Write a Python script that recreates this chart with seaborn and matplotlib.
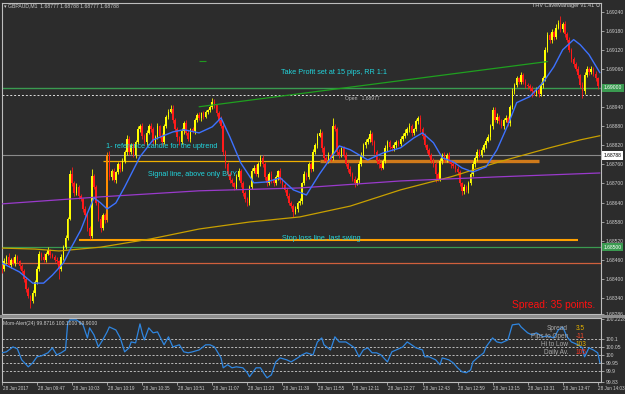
import numpy as np
import pandas as pd
import matplotlib
matplotlib.use("Agg")
import matplotlib.pyplot as plt
import matplotlib.transforms as mtransforms
from matplotlib.patches import Rectangle
import seaborn as sns

# ---------------- data ----------------
header_text = "\u25be GBPAUD,M1  1.68777 1.68788 1.68777 1.68788"
ea_text = "THV CaveManager v1.41 \u2299"
time_labels = ["28 Jun 2017", "28 Jun 09:47", "28 Jun 10:03", "28 Jun 10:19", "28 Jun 10:35",
               "28 Jun 10:51", "28 Jun 11:07", "28 Jun 11:23", "28 Jun 11:39", "28 Jun 11:55",
               "28 Jun 12:11", "28 Jun 12:27", "28 Jun 12:43", "28 Jun 12:59", "28 Jun 13:15",
               "28 Jun 13:31", "28 Jun 13:47", "28 Jun 14:03"]
time_label_bars = [0, 16, 32, 48, 64, 80, 96, 112, 128, 144, 160, 176, 192, 208, 224, 240, 256, 272]

# prices in points above 1.68000 (1 point = 0.00001), one M1 bar per value
base_price = 1.68000
first_open_pts = 440
close_pts = [
    430, 455, 470, 445, 460, 450, 470, 455, 440, 425,
    400, 370, 345, 330, 355, 390, 430, 480, 470, 460,
    480, 490, 475, 470, 460, 455, 430, 470, 500, 530,
    590, 730, 700, 670, 690, 660, 650, 620, 600, 560,
    535, 725, 690, 640, 590, 560, 600, 585, 790, 720,
    740, 710, 735, 760, 745, 770, 800, 840, 800, 820,
    790, 830, 870, 880, 850, 830, 860, 880, 870, 830,
    845, 880, 850, 830, 880, 910, 925, 935, 900, 870,
    845, 830, 865, 890, 860, 840, 870, 865, 900, 915,
    905, 920, 910, 925, 930, 940, 955, 945, 920, 900,
    880, 800, 760, 730, 710, 700, 690, 720, 740, 700,
    670, 650, 640, 690, 740, 750, 730, 760, 780, 760,
    720, 700, 730, 710, 700, 720, 740, 710, 695, 680,
    660, 640, 630, 610, 620, 640, 645, 700, 730, 720,
    760, 745, 800, 820, 850, 860, 810, 780, 770, 790,
    780, 880, 870, 800, 790, 810, 790, 760, 745, 730,
    715, 700, 710, 760, 790, 820, 830, 840, 855, 830,
    800, 770, 760, 750, 770, 810, 830, 815, 810, 820,
    830, 825, 840, 850, 860, 870, 880, 860, 870, 895,
    905, 870, 850, 820, 805, 790, 770, 760, 730, 715,
    770, 790, 775, 790, 770, 760, 755, 745, 735, 700,
    675, 690, 680, 700, 730, 760, 780, 800, 790, 805,
    820, 835, 845, 880, 930, 900, 910, 895, 880, 900,
    905, 890, 940, 990, 1010, 1030, 1020, 1040, 1020, 1010,
    1005, 1000, 990, 985, 995, 980, 1010, 1030, 1120, 1165,
    1150, 1175, 1160, 1190, 1205, 1185, 1200, 1170, 1150, 1120,
    1090, 1075, 1060, 1040, 1010, 990, 1040, 1060, 1050, 1060,
    1045, 1030, 1005]
upper_wick_pts = [
    8, 10, 6, 12, 5, 9, 7, 4, 6, 8,
    5, 7, 6, 4, 9, 6, 10, 8, 5, 12,
    6, 9, 5, 7, 4, 8, 6, 10, 7, 9,
    5, 12, 22, 8, 10, 6, 7, 5, 9, 6,
    8, 20, 6, 5, 7, 9, 6, 8, 10, 12,
    6, 9, 5, 8, 7, 10, 6, 12, 9, 7,
    8, 6, 10, 7, 9, 5, 8, 6, 10, 7,
    6, 9, 5, 8, 7, 6, 9, 10, 12, 6,
    7, 5, 9, 6, 8, 7, 5, 9, 6, 8,
    10, 6, 9, 7, 5, 8, 13, 9, 6, 7,
    12, 8, 6, 9, 5, 7, 6, 10, 8, 6,
    7, 5, 9, 6, 8, 7, 10, 6, 10, 9,
    6, 8, 5, 9, 7, 6, 3, 8, 6, 7,
    5, 9, 6, 7, 8, 6, 9, 5, 10, 7,
    8, 6, 9, 7, 10, 12, 6, 8, 5, 9,
    7, 26, 8, 6, 9, 5, 7, 8, 6, 9,
    5, 7, 6, 10, 8, 6, 9, 7, 14, 6,
    8, 5, 9, 6, 7, 10, 6, 8, 5, 9,
    7, 6, 10, 8, 12, 6, 9, 7, 5, 8,
    7, 9, 6, 8, 5, 7, 6, 9, 8, 6,
    10, 7, 9, 6, 8, 5, 7, 6, 9, 8,
    6, 8, 5, 9, 7, 10, 6, 8, 7, 9,
    6, 8, 10, 7, 11, 9, 12, 6, 8, 7,
    9, 6, 8, 10, 7, 9, 6, 10, 8, 9,
    6, 8, 7, 5, 9, 6, 8, 7, 10, 12,
    9, 10, 8, 12, 9, 20, 8, 10, 7, 9,
    6, 8, 7, 9, 5, 8, 10, 9, 6, 8,
    7, 9, 6]
lower_wick_pts = [
    12, 6, 9, 7, 10, 5, 8, 6, 9, 7,
    8, 10, 6, 20, 7, 9, 6, 5, 10, 8,
    7, 6, 9, 5, 8, 7, 30, 6, 9, 5,
    8, 6, 7, 9, 5, 8, 6, 10, 7, 9,
    10, 6, 8, 7, 9, 12, 6, 10, 7, 8,
    9, 6, 8, 5, 10, 7, 6, 9, 12, 7,
    8, 10, 6, 7, 9, 5, 8, 6, 7, 10,
    9, 6, 8, 10, 7, 6, 8, 5, 9, 7,
    10, 8, 6, 9, 7, 8, 10, 6, 8, 7,
    6, 9, 7, 5, 8, 6, 7, 9, 8, 10,
    6, 9, 12, 8, 10, 7, 9, 6, 8, 10,
    8, 7, 12, 9, 6, 8, 7, 9, 6, 8,
    9, 7, 6, 10, 8, 6, 9, 7, 10, 8,
    7, 9, 8, 15, 6, 9, 7, 8, 6, 10,
    7, 9, 6, 8, 7, 5, 10, 8, 9, 6,
    8, 7, 6, 9, 10, 7, 8, 6, 9, 7,
    8, 10, 6, 9, 5, 8, 7, 6, 9, 8,
    7, 9, 10, 8, 6, 7, 9, 6, 8, 7,
    9, 6, 7, 8, 6, 9, 7, 10, 8, 6,
    8, 7, 9, 6, 10, 8, 7, 9, 25, 8,
    7, 9, 6, 8, 7, 10, 6, 8, 9, 7,
    11, 8, 7, 9, 6, 8, 7, 9, 6, 8,
    7, 9, 6, 8, 10, 7, 9, 8, 6, 10,
    7, 8, 9, 6, 10, 7, 9, 8, 6, 9,
    8, 10, 17, 7, 9, 8, 6, 9, 7, 8,
    10, 8, 9, 7, 6, 10, 8, 9, 7, 6,
    9, 8, 7, 10, 9, 21, 8, 7, 9, 6,
    8, 7, 9]
reference_candle_bar = 48

# moving averages (bar index, points above 1.68000)
ma_fast_bar = [0, 8, 14, 19, 23, 28, 31, 36, 39, 42, 45, 48, 52, 56, 63, 69, 78, 83, 90, 96,
               100, 104, 109, 115, 121, 127, 133, 139, 145, 154, 159, 167, 174, 182, 188, 192,
               197, 201, 206, 210, 215, 221, 226, 231, 235, 241, 247, 252, 256, 261, 264, 268, 273]
ma_fast_pts = [450, 422, 387, 387, 412, 450, 491, 554, 607, 655, 639, 620, 639, 689, 784, 837,
               862, 869, 859, 878, 906, 847, 765, 702, 705, 718, 680, 664, 730, 818, 806, 774,
               796, 812, 843, 859, 828, 781, 768, 749, 736, 752, 806, 884, 954, 973, 1017, 1067,
               1120, 1152, 1136, 1105, 1048]
ma_slow_bar = [0, 15, 26, 45, 68, 90, 113, 136, 159, 182, 205, 227, 250, 264, 273]
ma_slow_pts = [497, 494, 488, 500, 526, 557, 579, 595, 629, 680, 721, 768, 812, 837, 850]
ma_purple_bar = [0, 45, 90, 136, 182, 227, 273]
ma_purple_pts = [636, 658, 677, 686, 708, 721, 733]

# drawn objects
trend_bar = [90, 249]
trend_price = [1.68941, 1.69083]
take_profit_price = 1.69000
open_price = 1.68977
bid_price = 1.68788
signal_price = 1.68771
signal_thin_bars = [46, 145]
signal_thick_bars = [145, 245]
stop_loss_price = 1.68522
stop_loss_bars = [35, 263]
green_level_price = 1.68500
red_level_price = 1.68450

price_ticks = [1.68340, 1.68400, 1.68460, 1.68520, 1.68580, 1.68640, 1.68700, 1.68760,
               1.68820, 1.68880, 1.68940, 1.69060, 1.69120, 1.69180, 1.69240]
price_bottom_label = "1.68286"

# Momentum(24) indicator (bar index, value)
mom_bar = [0, 2, 5, 7, 9, 12, 14, 16, 18, 21, 23, 25, 27, 29, 30, 31, 34, 37, 39, 40,
           42, 44, 46, 48, 49, 52, 54, 56, 58, 59, 61, 63, 64, 65, 67, 69, 71, 74, 76, 78,
           81, 83, 85, 87, 90, 93, 95, 97, 100, 101, 103, 105, 107, 110, 112, 113, 116, 118, 120, 121,
           123, 125, 127, 130, 132, 135, 137, 139, 142, 144, 146, 147, 150, 152, 154, 157, 159, 161, 163, 165,
           167, 169, 171, 173, 176, 178, 180, 183, 185, 187, 189, 192, 193, 195, 198, 200, 201, 204, 206, 208,
           210, 212, 214, 215, 217, 220, 221, 224, 226, 228, 231, 233, 236, 237, 240, 242, 244, 247, 249, 252,
           254, 256, 258, 260, 263, 265, 266, 268, 270, 272, 273]
mom_val = [100.013, 100.019, 100.050, 100.038, 99.969, 99.925, 99.950, 99.988, 99.994, 100.013,
           100.044, 100.000, 100.013, 100.031, 100.200, 100.219, 100.219, 100.188, 100.106, 100.169,
           100.125, 100.050, 100.094, 100.144, 100.175, 100.156, 100.106, 100.019, 100.044, 100.081,
           100.075, 100.194, 100.138, 100.094, 100.169, 100.138, 100.144, 100.063, 100.113, 100.050,
           100.063, 100.019, 100.013, 100.019, 100.031, 100.063, 100.063, 100.050, 99.981, 99.919,
           99.938, 99.919, 99.925, 99.919, 99.888, 99.863, 99.919, 99.919, 99.875, 99.856,
           99.875, 99.956, 99.981, 99.969, 99.956, 99.981, 100.000, 100.013, 100.000, 100.081,
           100.106, 100.063, 100.031, 100.113, 100.081, 100.081, 100.063, 100.044, 99.988, 100.031,
           100.044, 100.013, 100.013, 100.000, 99.956, 100.019, 100.031, 100.050, 100.081, 100.063,
           100.044, 100.031, 99.988, 99.988, 99.969, 99.938, 99.981, 99.969, 99.950, 99.919,
           99.894, 99.888, 99.906, 99.956, 99.981, 100.013, 100.050, 100.106, 100.081, 100.075,
           100.094, 100.188, 100.194, 100.175, 100.138, 100.125, 100.138, 100.113, 100.119, 100.106,
           100.156, 100.175, 100.113, 100.081, 100.063, 100.044, 99.988, 100.044, 100.031, 100.013,
           99.950]
mom_label = "Mom-Alert(24) 99.8716 100.1000 99.9000"
mom_levels = [100.1, 100.05, 100.0, 99.95, 99.9]
mom_ticks = [100.2228, 100.1, 100.05, 100.0, 99.95, 99.9, 99.83]
mom_ticklabels = ["100.2228", "100.1", "100.05", "100", "99.95", "99.9", "99.83"]

info_labels = ["Spread", "Pips to Open", "Hi to Low", "Daily Av."]
info_values = ["3.5", "-11", "103", "105"]
info_value_colors = ["#e8b400", "#ff4a2a", "#e8b400", "#ff3020"]

notes = ["Take Profit set at 15 pips, RR 1:1", "1- reference candle for the uptrend",
         "Signal line, above only BUY", "Stop loss line, last swing"]
open_note = "Open   1.68977"
spread_note = "Spread: 35 points."

# ---------------- style ----------------
BG = "#2c2c2c"
FG = "#cccccc"
sns.set_theme(style="dark", rc={"axes.facecolor": BG, "figure.facecolor": BG,
                                "axes.edgecolor": "#bdbdbd", "axes.grid": False})
plt.rcParams["font.family"] = ["Liberation Sans", "DejaVu Sans"]

W, H = 625, 394
fig = plt.figure(figsize=(W / 100, H / 100), dpi=100)


def fx(x):
    return x / W


def fy(y):
    return 1 - y / H


ax = fig.add_axes([fx(2), fy(314), 599 / W, 311 / H])
axm = fig.add_axes([fx(2), fy(382), 599 / W, 64 / H])
for a in (ax, axm):
    a.set_facecolor(BG)
    for s in a.spines.values():
        s.set_color("#bdbdbd")
        s.set_linewidth(0.8)
    a.grid(False)

# ---------------- candles ----------------
close = base_price + np.array(close_pts) / 1e5
opens = np.concatenate([[base_price + first_open_pts / 1e5], close[:-1]])
high = np.maximum(opens, close) + np.array(upper_wick_pts) / 1e5
low = np.minimum(opens, close) - np.array(lower_wick_pts) / 1e5
bars = np.arange(len(close))
colors = np.where(close >= opens, "#ffff00", "#ff1a1a").astype(object)
colors[reference_candle_bar] = "#ff8c00"
body_h = np.maximum(np.abs(close - opens), 0.000012)
ax.vlines(bars, low, high, colors=list(colors), linewidth=0.6, zorder=3)
ax.bar(bars, body_h, bottom=np.minimum(opens, close), width=0.72, color=list(colors),
       linewidth=0, zorder=4)

# ---------------- horizontal levels ----------------
ax.axhline(take_profit_price, color="#3a9a50", lw=1.0, zorder=2)
ax.axhline(open_price, color="#e0e0e0", lw=0.7, ls=(0, (2, 2)), zorder=2)
ax.axhline(bid_price, color="#8a8a8a", lw=0.8, zorder=2)
ax.axhline(green_level_price, color="#3a9a50", lw=0.9, zorder=2)
ax.axhline(red_level_price, color="#d0603c", lw=0.9, zorder=2)
ax.hlines(signal_price, *signal_thin_bars, color="#f0b000", lw=0.9, zorder=2)
ax.hlines(signal_price, *signal_thick_bars, color="#d07a1a", lw=2.4, zorder=2)
ax.hlines(stop_loss_price, *stop_loss_bars, color="#ffa000", lw=1.5, zorder=2)
ax.hlines(trend_price[1] + 0.00002, trend_bar[0], trend_bar[0] + 3, color="#1f9a1f", lw=0.8)

# ---------------- indicator lines ----------------
tr = pd.DataFrame({"bar": trend_bar, "price": trend_price})
sns.lineplot(data=tr, x="bar", y="price", ax=ax, color="#1fa01f", lw=0.9, zorder=5)
slow = pd.DataFrame({"bar": ma_slow_bar, "price": base_price + np.array(ma_slow_pts) / 1e5})
sns.lineplot(data=slow, x="bar", y="price", ax=ax, color="#c8a000", lw=0.9, zorder=5)
purp = pd.DataFrame({"bar": ma_purple_bar, "price": base_price + np.array(ma_purple_pts) / 1e5})
sns.lineplot(data=purp, x="bar", y="price", ax=ax, color="#9a3acc", lw=0.9, zorder=5)
fast = pd.DataFrame({"bar": ma_fast_bar, "price": base_price + np.array(ma_fast_pts) / 1e5})
sns.lineplot(data=fast, x="bar", y="price", ax=ax, color="#3d72ff", lw=1.0, zorder=6)

ax.set_xlim(0, 273.5)
ax.set_ylim(1.68290, 1.69267)
ax.set_xlabel("")
ax.set_ylabel("")
ax.set_xticks([])
ax.yaxis.tick_right()
ax.set_yticks(price_ticks + [1.68290])
ax.set_yticklabels([f"{p:.5f}" for p in price_ticks] + [price_bottom_label])
ax.tick_params(axis="y", which="both", right=True, length=2, width=0.5, color=FG,
               labelsize=3.6, labelcolor=FG, pad=1.2)

blend = mtransforms.blended_transform_factory(ax.transAxes, ax.transData)
box_specs = [(take_profit_price, "1.69000", "#3a9a50", "#ffffff"),
             (bid_price, "1.68788", "#ffffff", "#000000"),
             (green_level_price, "1.68500", "#3a9a50", "#ffffff")]
for price, txt, bgc, fgc in box_specs:
    ax.text(1.004, price, txt, transform=blend, ha="left", va="center", fontsize=3.6,
            color=fgc, clip_on=False, zorder=10,
            bbox=dict(facecolor=bgc, edgecolor="none", boxstyle="square,pad=0.35"))

# ---------------- momentum panel ----------------
mom = pd.DataFrame({"bar": mom_bar, "value": mom_val})
for lvl in mom_levels:
    axm.axhline(lvl, color="#d0d0d0", lw=0.6, ls=(0, (2.5, 2)), zorder=1)
sns.lineplot(data=mom, x="bar", y="value", ax=axm, color="#2f86e0", lw=0.9, zorder=3)
axm.set_xlim(0, 273.5)
axm.set_ylim(99.831, 100.231)
axm.set_xlabel("")
axm.set_ylabel("")
axm.yaxis.tick_right()
axm.set_yticks(mom_ticks)
axm.set_yticklabels(mom_ticklabels)
axm.tick_params(axis="y", right=True, length=2, width=0.5, color=FG, labelsize=3.6,
                labelcolor=FG, pad=1.2)
axm.set_xticks(time_label_bars)
axm.set_xticklabels([])
axm.tick_params(axis="x", bottom=True, length=2, width=0.5, color=FG)
tblend = mtransforms.blended_transform_factory(axm.transData, axm.transAxes)
for b, lab in zip(time_label_bars, time_labels):
    axm.text(b + 0.3, -0.1, lab, transform=tblend, ha="left", va="center",
             fontsize=3.3, color=FG, clip_on=False)

# separator between panels
fig.patches.append(Rectangle((fx(0), fy(317.5)), 1, 2.5 / H, transform=fig.transFigure,
                             facecolor="#8e8e8e", edgecolor="none"))

# ---------------- texts ----------------
fig.text(fx(4), fy(6), header_text, fontsize=3.7, color=FG, va="center", ha="left")
fig.text(fx(600), fy(6), ea_text, fontsize=4.0, color=FG, va="center", ha="right")
CY = "#22d4dc"
fig.text(fx(281), fy(73), notes[0], fontsize=5.2, color=CY, va="center", ha="left")
fig.text(fx(106), fy(147), notes[1], fontsize=5.2, color=CY, va="center", ha="left")
fig.text(fx(148), fy(174), notes[2], fontsize=5.2, color=CY, va="center", ha="left")
fig.text(fx(282), fy(238), notes[3], fontsize=5.2, color=CY, va="center", ha="left")
fig.text(fx(345), fy(98.5), open_note, fontsize=3.6, color="#b8b8b8", va="center", ha="left")
fig.text(fx(512), fy(305), spread_note, fontsize=7.4, color="#ff1010", va="center", ha="left")
fig.text(fx(3), fy(323), mom_label, fontsize=3.6, color=FG, va="center", ha="left")
for k, (lab, val, vc) in enumerate(zip(info_labels, info_values, info_value_colors)):
    yy = 329 + 8 * k
    fig.text(fx(568), fy(yy), lab, fontsize=4.7, color="#a8a8a8", va="center", ha="right")
    fig.text(fx(576), fy(yy), val, fontsize=4.7, color=vc, va="center", ha="left")

fig.savefig("out.png", dpi=100, facecolor=BG)
